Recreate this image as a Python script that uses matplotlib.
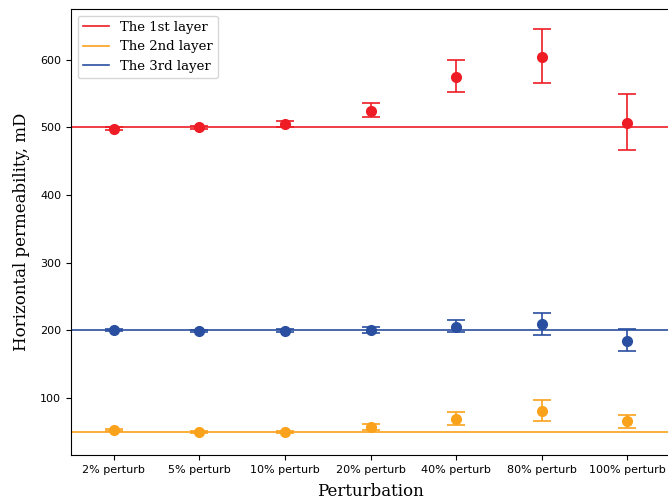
import numpy as np
import matplotlib
matplotlib.use("Agg")
import matplotlib.pyplot as plt

# 扰动等级
cases = ["2% perturb", "5% perturb", "10% perturb", "20% perturb",
         "40% perturb", "80% perturb", "100% perturb"]

# 真实渗透率（水平线）
true_k = [500, 50, 200]
names = ["The 1st layer", "The 2nd layer", "The 3rd layer"]
colors = ["#ee1c25", "#faa21b", "#2a4fa0"]

# 各层估计均值 + 误差棒上下端
k1_mean = [498, 500, 505, 524, 574, 604, 506]
k1_low = [496, 498, 500, 515, 552, 566, 467]
k1_high = [500, 502, 509, 536, 599, 645, 550]

k2_mean = [53, 50, 50.5, 57, 68.5, 80.5, 65.5]
k2_low = [51.5, 49, 49, 53, 60, 65.5, 56]
k2_high = [54.5, 51, 52, 61.5, 79, 98, 75.5]

k3_mean = [201, 199.5, 199.5, 201, 205.5, 210, 185]
k3_low = [199.5, 198, 197.5, 197, 198, 194, 170]
k3_high = [202.5, 201, 201.5, 205.5, 215, 226, 201.5]

means = [k1_mean, k2_mean, k3_mean]
lows = [k1_low, k2_low, k3_low]
highs = [k1_high, k2_high, k3_high]

fig = plt.figure(figsize=(6.68, 4.99), dpi=100)
ax = fig.add_axes([71 / 668, 1 - 455 / 499, 599 / 668, 446 / 499])

x = np.arange(len(cases))
for i in range(3):
    m = np.array(means[i])
    err = [m - np.array(lows[i]), np.array(highs[i]) - m]
    ax.axhline(true_k[i], color=colors[i], lw=1.2, label=names[i])
    ax.errorbar(x, m, yerr=err, fmt="o", color=colors[i], ms=7,
                capsize=6.7, elinewidth=1.2, capthick=1.2)

ax.set_xlim(-0.5, 6.5)
ax.set_ylim(16, 675)
ax.set_xticks(x)
ax.set_xticklabels(cases, fontsize=8)
ax.set_yticks([100, 200, 300, 400, 500, 600])
ax.tick_params(axis="y", labelsize=8)
ax.set_xlabel("Perturbation", family="DejaVu Serif", fontsize=12, labelpad=6)
ax.set_ylabel("Horizontal permeability, mD", family="DejaVu Serif",
              fontsize=12, labelpad=7)
ax.legend(loc="upper left", prop={"family": "DejaVu Serif", "size": 9.5})

fig.savefig("out.png", dpi=100)
